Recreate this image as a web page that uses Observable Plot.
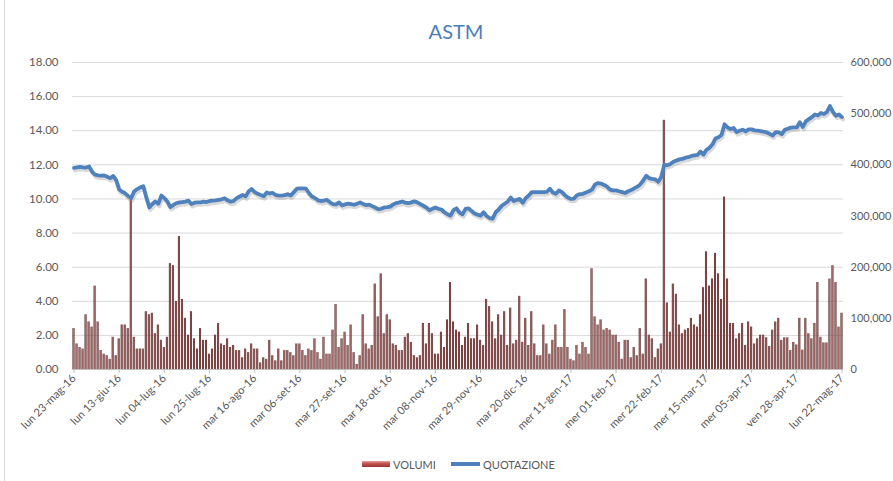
<!DOCTYPE html>
<html>
<head>
<meta charset="utf-8">
<script src="https://cdn.jsdelivr.net/npm/d3@7"></script>
<script src="https://cdn.jsdelivr.net/npm/@observablehq/plot@0.6"></script>
<style>
  body { margin: 0; background: #fff; font-family: Lato, "Open Sans", sans-serif; }
  #wrap { position: relative; width: 893px; height: 481px; overflow: hidden; background: #fff; }
  #wrap > svg { position: absolute; left: 0; top: 0; }
  #border { position: absolute; left: 4px; top: 0; width: 1px; height: 481px; background: #d9d9d9; }
  #title { position: absolute; left: 456px; top: 19px; transform: translateX(-50%); font-size: 20px; color: #4a7ebb; white-space: nowrap; }
  .lg { position: absolute; font-size: 11px; color: #595959; white-space: nowrap; line-height: 13px; }
</style>
</head>
<body>
<div id="wrap">
  <div id="border"></div>
  <div id="title">ASTM</div>
  <div class="lg" style="left:362px;top:461px;width:28px;height:6px;background:linear-gradient(#e8a3a1,#c0504d 45%,#9a3432);border:0;"></div>
  <div class="lg" style="left:393px;top:458px;">VOLUMI</div>
  <div class="lg" style="left:451px;top:462px;width:29px;height:4px;background:#4f81bd;"></div>
  <div class="lg" style="left:483px;top:458px;">QUOTAZIONE</div>
</div>
<script>
// Etichette dell'asse X (una ogni 15 sedute)
const etichette = ["lun 23-mag-16","lun 13-giu-16","lun 04-lug-16","lun 25-lug-16","mar 16-ago-16","mar 06-set-16","mar 27-set-16","mar 18-ott-16","mar 08-nov-16","mar 29-nov-16","mar 20-dic-16","mer 11-gen-17","mer 01-feb-17","mer 22-feb-17","mer 15-mar-17","mer 05-apr-17","ven 28-apr-17","lun 22-mag-17"];
const passoEtichette = 15;

// Quotazione (EUR), una per seduta
const quotazione = [
11.82,11.85,11.88,11.85,11.84,11.90,11.60,11.42,11.38,11.37,
11.38,11.30,11.22,11.35,11.10,10.55,10.42,10.33,10.16,10.05,
10.45,10.58,10.68,10.75,10.10,9.50,9.70,9.85,9.72,10.20,
10.05,9.85,9.52,9.65,9.75,9.80,9.82,9.84,9.90,9.70,
9.78,9.80,9.80,9.84,9.82,9.88,9.90,9.92,9.95,9.98,
10.04,9.92,9.84,9.88,10.05,10.14,10.23,10.15,10.45,10.58,
10.40,10.30,10.23,10.16,10.38,10.32,10.35,10.23,10.20,10.20,
10.22,10.28,10.20,10.40,10.60,10.62,10.62,10.60,10.35,10.15,
10.05,9.92,9.88,9.90,9.94,9.80,9.70,9.68,9.80,9.62,
9.68,9.72,9.70,9.66,9.72,9.80,9.70,9.64,9.67,9.58,
9.50,9.40,9.42,9.50,9.52,9.55,9.68,9.76,9.80,9.85,
9.78,9.75,9.80,9.86,9.80,9.70,9.60,9.50,9.34,9.42,
9.50,9.42,9.38,9.22,9.10,9.02,9.35,9.45,9.20,9.10,
9.42,9.45,9.30,9.15,9.08,9.02,9.22,9.00,8.88,8.84,
9.22,9.38,9.60,9.72,9.85,10.08,9.88,9.95,10.00,9.78,
10.06,10.20,10.40,10.40,10.40,10.40,10.40,10.42,10.60,10.38,
10.30,10.50,10.40,10.22,10.08,10.00,10.02,10.22,10.28,10.30,
10.38,10.45,10.55,10.85,10.93,10.90,10.82,10.72,10.55,10.50,
10.50,10.45,10.40,10.35,10.45,10.52,10.62,10.72,10.85,11.08,
11.36,11.22,11.18,11.15,11.00,11.30,12.00,11.98,12.05,12.18,
12.25,12.32,12.35,12.42,12.45,12.52,12.55,12.58,12.78,12.60,
12.88,13.00,13.20,13.55,13.62,13.75,14.38,14.20,14.10,14.16,
13.92,14.00,14.06,13.96,14.08,14.08,14.02,14.00,13.98,13.94,
13.90,13.82,13.72,13.92,13.90,13.80,14.05,14.12,14.18,14.20,
14.20,14.50,14.22,14.55,14.68,14.80,14.95,14.90,15.04,14.98,
15.10,15.45,15.10,14.88,14.95,14.80
];

// Volumi (migliaia di titoli), uno per seduta
const volumiMigliaia = [
80,50,43,40,107,93,83,163,93,37,
30,27,20,63,27,60,87,87,80,333,
63,40,40,40,113,107,110,70,87,57,
43,63,207,203,133,260,137,100,67,113,
60,40,80,57,57,30,40,67,90,50,
47,60,43,47,37,37,23,40,33,50,
40,40,13,23,20,57,27,17,40,17,
37,37,33,27,50,50,37,27,40,37,
60,33,20,63,30,30,77,127,43,60,
73,47,87,33,10,27,107,50,40,47,
167,103,187,70,107,97,50,47,37,37,
63,70,53,27,23,27,90,50,90,70,
30,30,73,43,97,170,93,77,73,47,
63,90,60,60,87,57,47,137,123,93,
60,107,67,113,47,120,50,57,143,53,
100,47,113,50,27,27,87,50,30,57,
87,43,43,117,43,20,17,47,30,53,
43,30,197,103,87,97,77,80,77,67,
67,53,20,57,57,23,43,27,80,30,
177,67,60,23,40,50,487,130,73,167,
147,87,70,77,80,100,87,83,107,160,
230,163,177,227,187,137,337,177,90,90,
60,70,90,47,93,83,50,60,67,67,
62,45,77,93,100,57,62,62,37,53,
48,100,38,100,70,60,90,170,63,52,
52,177,203,170,83,110
];

const dati = quotazione.map((q, i) => ({ i, quotazione: q, volume: volumiMigliaia[i] * 1000 }));
const tickIdx = etichette.map((_, k) => k * passoEtichette);

const W = 893, H = 440;
const common = {
  width: W, height: H,
  marginLeft: 72, marginRight: 50, marginTop: 62, marginBottom: H - 369,
  style: { fontFamily: "Lato, 'Open Sans', sans-serif", fontSize: "11.5px", color: "#595959", background: "transparent", overflow: "visible" }
};
const xDom = [-0.5, quotazione.length - 0.5];

// Layer A: griglia + asse sinistro (quotazione)
const layerA = Plot.plot({
  ...common,
  x: { domain: xDom, axis: null },
  y: { domain: [0, 18], axis: null },
  marks: [
    Plot.gridY({ ticks: 9, stroke: "#d9d9d9", strokeOpacity: 1 }),
    Plot.axisY({ ticks: 9, anchor: "left", tickSize: 0, tickPadding: 14, tickFormat: d => d.toFixed(2), label: null, fontSize: 11.5 })
  ]
});

// Layer B: volumi + asse destro + asse X
const layerB = Plot.plot({
  ...common,
  x: { domain: xDom },
  y: { domain: [0, 600000] },
  marks: [
    Plot.rectY(dati, { x1: d => d.i - 0.5, x2: d => d.i + 0.5, y: "volume", fill: "url(#gradVol)", insetLeft: 0.5, insetRight: 0.5 }),
    Plot.ruleY([0], { stroke: "#bfbfbf" }),
    Plot.axisY({ ticks: 6, anchor: "right", tickSize: 0, tickPadding: 7, tickFormat: d3.format(","), label: null, fontSize: 11 }),
    Plot.axisX({ ticks: tickIdx, tickFormat: v => etichette[tickIdx.indexOf(v)], tickRotate: -45, tickSize: 4, tickPadding: 3, stroke: "#bfbfbf", label: null, fontSize: 11 })
  ]
});
layerB.insertAdjacentHTML("afterbegin",
  '<defs><linearGradient id="gradVol" x1="0" x2="1" y1="0" y2="0">' +
  '<stop offset="0" stop-color="#4a1413"/><stop offset="0.5" stop-color="#a86c6b"/><stop offset="1" stop-color="#4a1413"/>' +
  '</linearGradient></defs>');

// Layer C: linea quotazione
const layerC = Plot.plot({
  ...common,
  x: { domain: xDom, axis: null },
  y: { domain: [0, 18], axis: null },
  marks: [
    Plot.line(dati, { x: "i", y: "quotazione", stroke: "#808080", strokeOpacity: 0.3, strokeWidth: 4, dx: 1, dy: 2.5, strokeLinejoin: "round" }),
    Plot.line(dati, { x: "i", y: "quotazione", stroke: "#4f81bd", strokeWidth: 3.8, strokeLinejoin: "round", strokeLinecap: "round" })
  ]
});

const wrap = document.getElementById("wrap");
wrap.prepend(layerC);
wrap.prepend(layerB);
wrap.prepend(layerA);
wrap.prepend(document.getElementById("border"));
</script>
</body>
</html>
